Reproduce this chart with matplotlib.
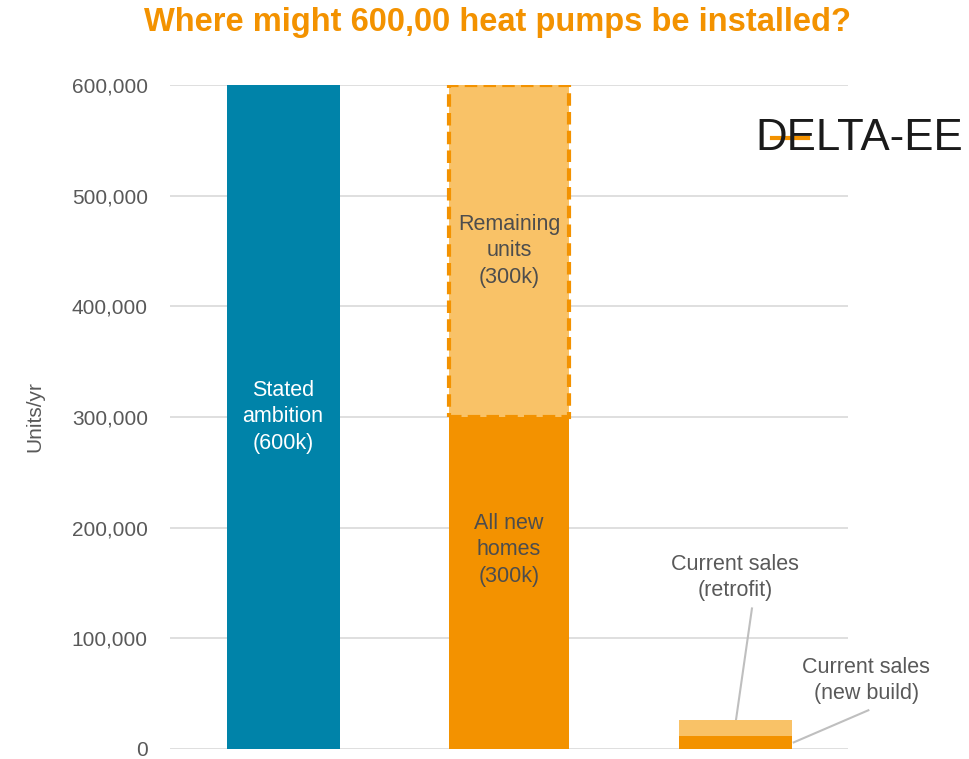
import matplotlib.pyplot as plt
from matplotlib.lines import Line2D
import numpy as np

BLUE = '#0083A9'
ORANGE = '#F39200'
LIGHT = '#F9C267'
GREY = '#595959'

# data
positions = [0, 1, 2]
ambition = [600000, 0, 0]
new_homes = [0, 300000, 0]
remaining = [0, 300000, 0]
sales_new_build = [0, 0, 12000]
sales_retrofit = [0, 0, 14000]
yticks = [0, 100000, 200000, 300000, 400000, 500000, 600000]

plt.rcParams['font.family'] = ['Liberation Sans', 'DejaVu Sans']

fig = plt.figure(figsize=(9.69, 7.59), dpi=100)
ax = fig.add_axes([170/969, 1-749/759, 678/969, 664/759])

ax.bar(positions[0], ambition[0], width=0.5, color=BLUE, zorder=3)
ax.bar(positions[1], new_homes[1], width=0.53, color=ORANGE, zorder=3)
ax.bar(positions[1], remaining[1], bottom=new_homes[1], width=0.53, color=LIGHT,
       edgecolor=ORANGE, linewidth=3, linestyle=(0, (3, 1.5)), zorder=3)
ax.bar(positions[2], sales_new_build[2], width=0.5, color=ORANGE, zorder=3)
ax.bar(positions[2], sales_retrofit[2], bottom=sales_new_build[2], width=0.5, color=LIGHT, zorder=3)

kw = dict(ha='center', va='center', fontsize=15.5, zorder=4, linespacing=1.35)
ax.text(positions[0], ambition[0]/2, 'Stated\nambition\n(600k)', color='white', **kw)
ax.text(positions[1], new_homes[1] + remaining[1]/2, 'Remaining\nunits\n(300k)', color='#4D4D4D', **kw)
ax.text(positions[1], new_homes[1]*0.6, 'All new\nhomes\n(300k)', color='#4D4D4D', **kw)

# leader labels
ax.plot([2, 2.075], [20000, 127000], color='#BFBFBF', lw=1.5, zorder=2, clip_on=False)
ax.text(2, 155000, 'Current sales\n(retrofit)', color=GREY, **kw)
ax.plot([2.26, 2.59], [6000, 35000], color='#BFBFBF', lw=1.5, zorder=2, clip_on=False)
ax.text(2.58, 62000, 'Current sales\n(new build)', color=GREY, **kw)

ax.set_xlim(-0.5, 2.5)
ax.set_ylim(0, 600000)
ax.set_yticks(yticks)
ax.set_yticklabels([f'{v:,}' for v in yticks], fontsize=15, color=GREY)
ax.set_xticks([])
ax.tick_params(axis='y', length=0, pad=16)
ax.grid(axis='y', color='#D9D9D9', lw=1.2, zorder=0)
for s in ax.spines.values():
    s.set_visible(False)
ax.set_ylabel('Units/yr', fontsize=15, color=GREY, labelpad=20)

fig.text(497/969, 1-22/759, 'Where might 600,00 heat pumps be installed?', ha='center', va='center',
         fontsize=23.5, fontweight='bold', color=ORANGE)

# logo
fig.text(755/969, 1-139/759, 'DELTA-EE', ha='left', va='center', fontsize=31.5, color='#1A1A1A')
fig.add_artist(Line2D([772/969, 808/969], [1-138/759, 1-138/759], color=ORANGE, lw=3))

fig.savefig('out.png', dpi=100)
